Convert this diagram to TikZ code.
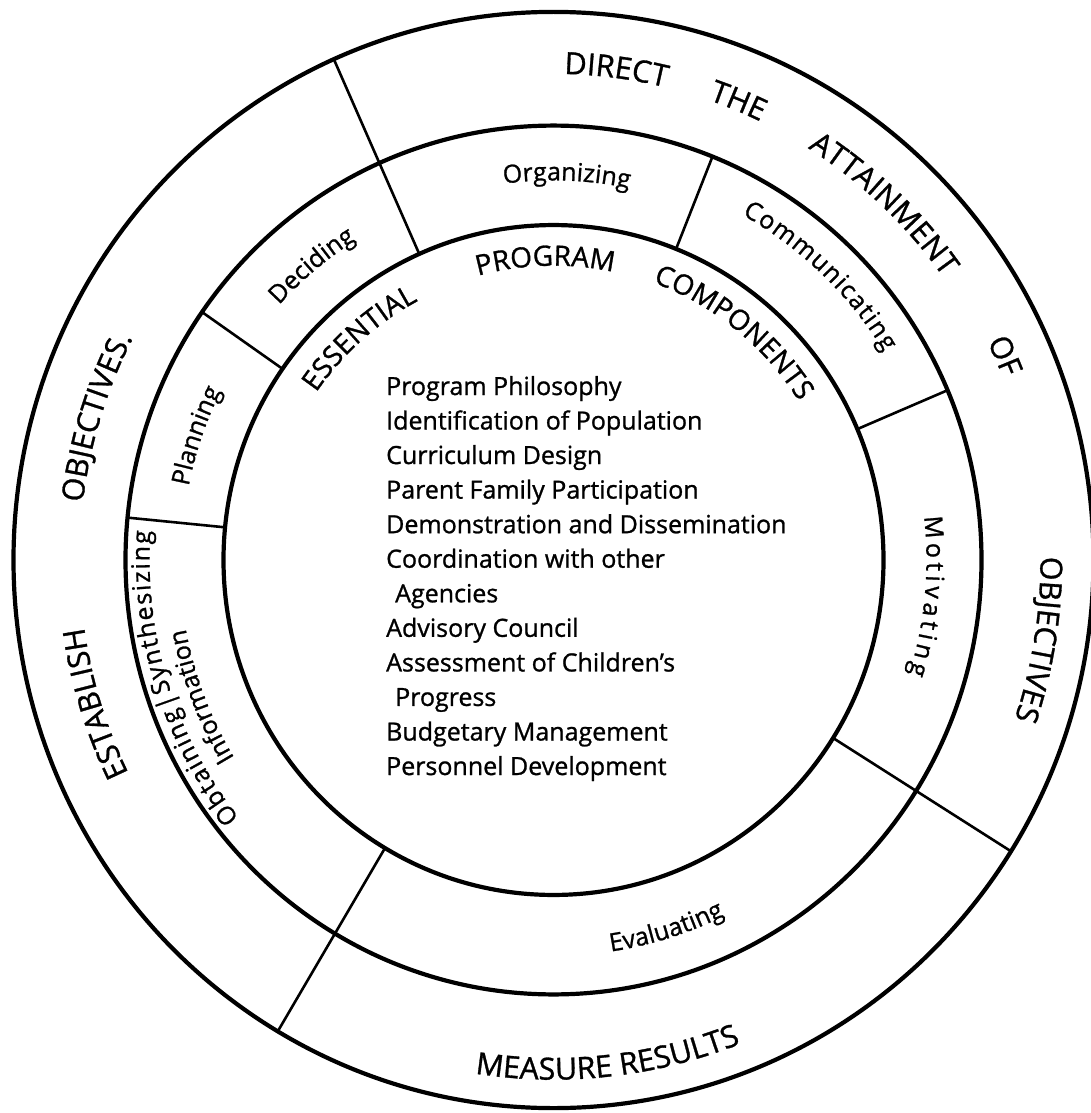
\documentclass[tikz,border=0pt]{standalone}
\usepackage{fontspec}
\setmainfont{Open Sans}[FakeBold=1.0]
\usetikzlibrary{decorations.text}
\newcommand\outerfont{\fontsize{30.5}{30.5}\selectfont}
\newcommand\innerfont{\fontsize{28}{28}\selectfont}
\newcommand\midfont{\fontsize{25}{25}\selectfont}
\newcommand\ka{{\kern4pt}}
\newcommand\kb{{\kern1.3pt}}
\newcommand\kc{{\kern1.6pt}}
% clockwise arc text: #1 centre angle, #2 baseline radius, #3 half span, #4 font, #5 text
\newcommand\cwtext[5]{%
  \path[decorate, decoration={text along path, text align=center, text={|#4|#5}}]
    (#1+#3:#2) arc[start angle=#1+#3, end angle=#1-#3, radius=#2];}
% counter-clockwise arc text
\newcommand\ccwtext[5]{%
  \path[decorate, decoration={text along path, text align=center, text={|#4|#5}}]
    (#1-#3:#2) arc[start angle=#1-#3, end angle=#1+#3, radius=#2];}
\begin{document}
\begin{tikzpicture}[x=1pt,y=1pt,
  ring/.style={line width=4.2pt},
  divider/.style={line width=2.6pt},
  listitem/.style={anchor=base west, inner sep=0pt, font=\fontsize{25}{25}\selectfont}]
\useasboundingbox (0,0) rectangle (1090,-1113);
\fill[white] (0,0) rectangle (1090,-1113);
\begin{scope}[shift={(553.5,-560)}, yscale=1.015]
  % rings
  \draw[ring] (0,0) circle[radius=330];
  \draw[ring] (0,0) circle[radius=428];
  \draw[ring] (0,0) circle[radius=540];
  % dividers through both rings
  \draw[divider] (114:330) -- (114:540);
  \draw[divider] (239.3:330) -- (239.3:540);
  \draw[divider] (327.9:330) -- (327.9:540);
  % dividers of the middle ring
  \draw[divider] (145.2:330) -- (145.2:428);
  \draw[divider] (174.4:330) -- (174.4:428);
  \draw[divider] (23:330) -- (23:428);
  \draw[divider] (68.2:330) -- (68.2:428);
  % outer ring texts
  \cwtext{82.6}{479}{20}{\outerfont}{DIRECT}
  \cwtext{67.8}{479}{20}{\outerfont}{THE}
  \cwtext{46.8}{479}{25}{\outerfont}{ATTAINMENT}
  \cwtext{24.1}{484}{20}{\outerfont}{OF}
  \cwtext{-9.2}{487}{25}{\outerfont}{OBJECTIVES}
  \cwtext{197.2}{474}{25}{\outerfont}{ESTABLISH}
  \cwtext{162.8}{474}{25}{\outerfont}{OBJECTIVES.}
  \ccwtext{-83.7}{512}{30}{\outerfont}{MEASURE RESULTS}
  % middle ring texts
  \cwtext{88}{374}{30}{\midfont}{Organizing}
  \cwtext{46.5}{389}{34}{\midfont}{C\kb o\kb m\kb m\kb u\kb n\kb i\kb c\kb a\kb t\kb i\kb n\kb g}
  \cwtext{-5.5}{373}{34}{\midfont}{M\ka o\ka t\ka i\ka v\ka a\ka t\ka i\ka n\ka g}
  \ccwtext{287.2}{390}{30}{\midfont}{Evaluating}
  \cwtext{197.5}{404}{34}{\midfont}{O\kc b\kc t\kc a\kc i\kc n\kc i\kc n\kc g\kc{\textbar}\kc S\kc y\kc n\kc t\kc h\kc e\kc s\kc i\kc z\kc i\kc n\kc g}
  \cwtext{201}{374}{30}{\midfont}{Information}
  \cwtext{161}{372}{30}{\midfont}{Planning}
  \cwtext{129.7}{372}{30}{\midfont}{Deciding}
  % inner ring texts
  \cwtext{131.5}{289}{30}{\innerfont}{ESSENTIAL}
  \cwtext{91.6}{290}{30}{\innerfont}{PROGRAM}
  \cwtext{51.3}{291}{30}{\innerfont}{COMPONENTS}
\end{scope}
% central list
\node[listitem] (l1)  at (386,-395)   {Program Philosophy};
\node[listitem] (l2)  at (386,-429.5) {Identification of Population};
\node[listitem] (l3)  at (386,-464)   {Curriculum Design};
\node[listitem] (l4)  at (386,-498.6) {Parent Family Participation};
\node[listitem] (l5)  at (386,-533.2) {Demonstration and Dissemination};
\node[listitem] (l6)  at (386,-567.7) {Coordination with other};
\node[listitem] (l7)  at (395,-602.3) {Agencies};
\node[listitem] (l8)  at (386,-636.8) {Advisory Council};
\node[listitem] (l9)  at (386,-671.4) {Assessment of Children’s};
\node[listitem] (l10) at (395,-705.9) {Progress};
\node[listitem] (l11) at (386,-740.5) {Budgetary Management};
\node[listitem] (l12) at (386,-775)   {Personnel Development};
\end{tikzpicture}
\end{document}
